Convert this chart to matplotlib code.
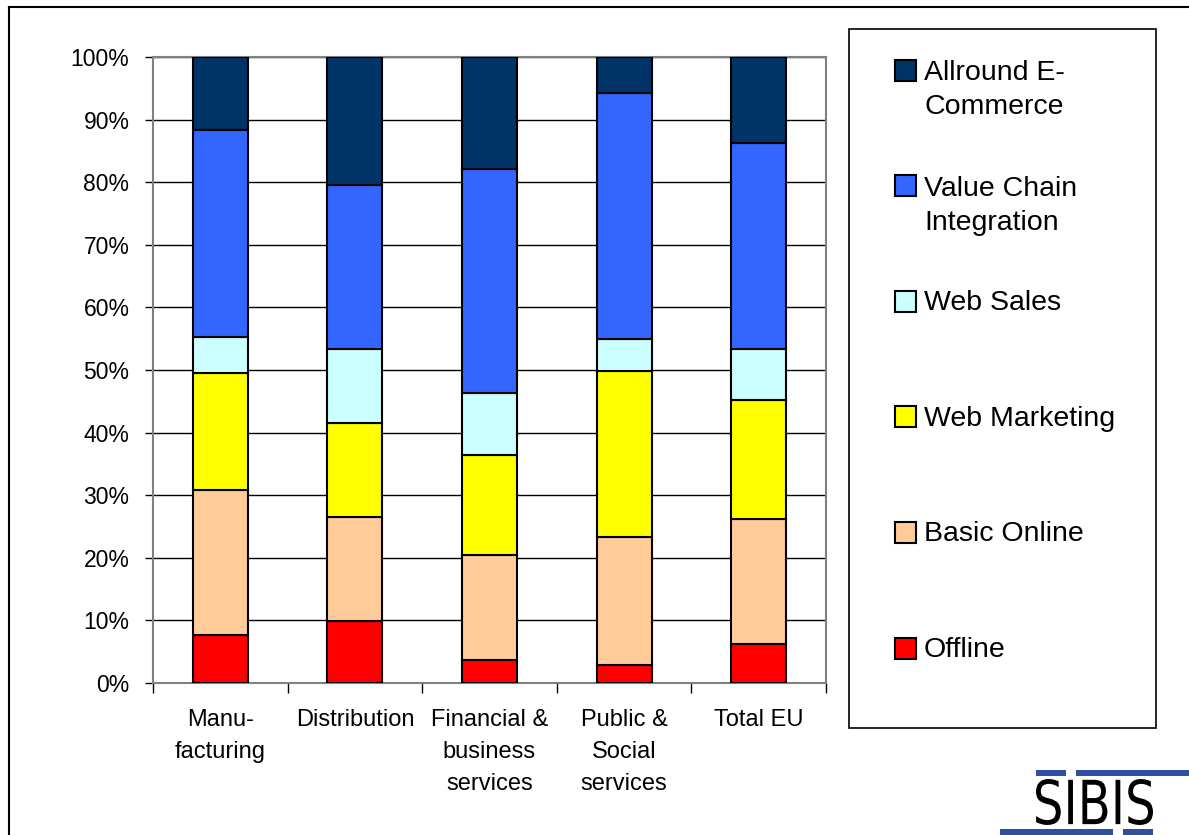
import matplotlib.pyplot as plt
import numpy as np
from matplotlib.patches import Rectangle, PathPatch
from matplotlib.textpath import TextPath
from matplotlib.font_manager import FontProperties
from matplotlib.transforms import Affine2D

plt.rcParams['font.family'] = ['Liberation Sans', 'DejaVu Sans']

sectors = ['Manu-\nfacturing', 'Distribution', 'Financial &\nbusiness\nservices',
           'Public &\nSocial\nservices', 'Total EU']

# share of enterprises (%) per sector, stacked bottom to top
offline = [7.6, 9.9, 3.6, 2.8, 6.3]
basic_online = [23.3, 16.6, 16.8, 20.5, 19.9]
web_marketing = [18.6, 15.0, 16.0, 26.5, 19.0]
web_sales = [5.7, 11.8, 10.0, 5.1, 8.1]
value_chain = [33.2, 26.2, 35.7, 39.3, 32.9]
allround = [11.6, 20.5, 17.9, 5.8, 13.8]

series_names = ['Offline', 'Basic Online', 'Web Marketing', 'Web Sales',
                'Value Chain\nIntegration', 'Allround E-\nCommerce']
series_values = [offline, basic_online, web_marketing, web_sales, value_chain, allround]
series_colors = ['#FF0000', '#FFCC99', '#FFFF00', '#CCFFFF', '#3366FF', '#003366']

W, H = 1189, 835
fig = plt.figure(figsize=(W / 100, H / 100), dpi=100)

# plot area in pixels: x 153..826, y 57..683
ax = fig.add_axes([153 / W, 1 - 683 / H, (826 - 153) / W, (683 - 57) / H])

x = np.arange(len(sectors))
bottom = np.zeros(len(sectors))
for vals, col in zip(series_values, series_colors):
    vals = np.array(vals)
    ax.bar(x, vals, 0.41, bottom=bottom, color=col, edgecolor='black',
           linewidth=1.5, zorder=3)
    bottom += vals

ax.set_xlim(-0.5, len(sectors) - 0.5)
ax.set_ylim(0, 100)
yt = np.arange(0, 101, 10)
ax.set_yticks(yt, [f'{v}%' for v in yt])
ax.grid(axis='y', color='black', linewidth=1, zorder=0)
ax.set_axisbelow(True)
for s in ax.spines.values():
    s.set_color('#808080')
    s.set_linewidth(1.5)

ax.tick_params(axis='y', direction='out', length=6, width=1, color='black',
               pad=11, labelsize=16.5)
ax.set_xticks(x, sectors)
ax.tick_params(axis='x', which='major', length=0, pad=19, labelsize=17)
ax.set_xticks(np.arange(-0.5, len(sectors), 1), minor=True)
ax.tick_params(axis='x', which='minor', direction='out', length=7, width=1,
               color='black')
for lbl in ax.get_xticklabels():
    lbl.set_linespacing(1.58)

# overlay in pixel coordinates for frame, legend and logo
ov = fig.add_axes([0, 0, 1, 1])
ov.set_xlim(0, W)
ov.set_ylim(H, 0)
ov.axis('off')
ov.patch.set_alpha(0)

ov.plot([9, 9], [H, 7], color='black', linewidth=1.5)
ov.plot([9, W], [7, 7], color='black', linewidth=1.5)

# legend box
ov.add_patch(Rectangle((849, 29), 307, 699, fill=False, ec='black', lw=1.2))
for i, (name, col) in enumerate(zip(series_names[::-1], series_colors[::-1])):
    yc = 70 + i * 115.6
    ov.add_patch(Rectangle((895, yc - 10.5), 21, 21, fc=col, ec='black', lw=1.5))
    nlines = name.count('\n')
    ov.text(924, yc + 9 + nlines * 35, name, fontsize=20.5, va='baseline',
            ha='left', linespacing=1.4)

# SIBIS logo
blue = '#2F4F9F'
for (bx, by, bw, bh) in [(1036, 770, 30, 6), (1076, 770, 113, 6),
                         (1000, 829, 113, 6), (1123, 829, 30, 6)]:
    ov.add_patch(Rectangle((bx, by), bw, bh, fc=blue, ec='none'))
tp = TextPath((0, 0), 'SIBIS', size=46, prop=FontProperties(family='DejaVu Sans'))
ext = tp.get_extents()
tr = (Affine2D().translate(-ext.x0, -ext.y0)
      .scale(117 / ext.width, -46 / ext.height)
      .translate(1036, 825))
ov.add_patch(PathPatch(tr.transform_path(tp), fc='black', ec='none'))

fig.savefig('out.png', dpi=100)
